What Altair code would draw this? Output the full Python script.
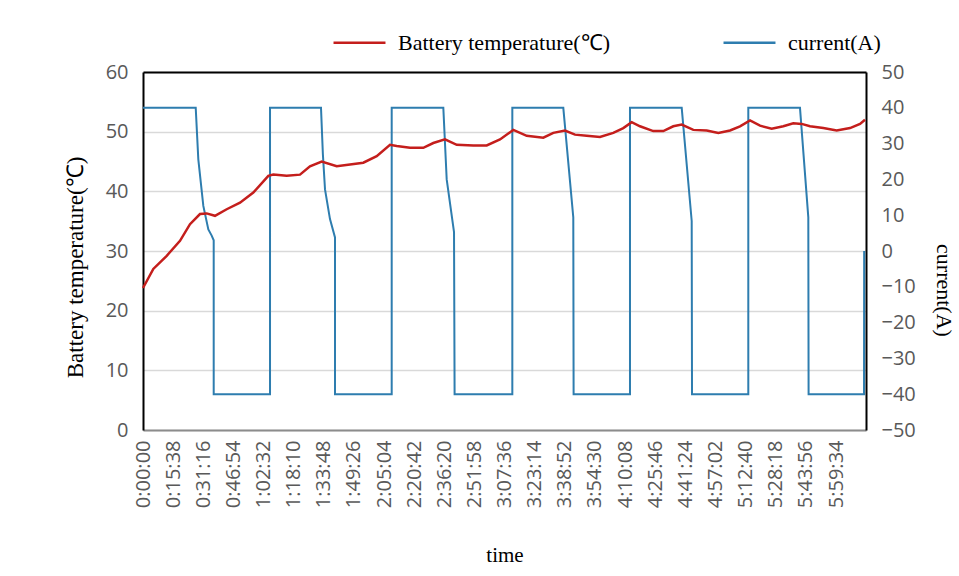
import altair as alt
import pandas as pd

# ---- data (time in seconds from start) ----
temp_time = [0, 321, 738, 1152, 1463, 1774, 1983, 2241, 2606, 3020, 3434, 3901, 4056, 4473,
             4887, 5198, 5563, 6030, 6444, 6858, 7275, 7689, 7898, 8312, 8726, 9037, 9401,
             9766, 10282, 10699, 11113, 11528, 11945, 12461, 12773, 13137, 13448, 13812,
             14226, 14640, 14952, 15213, 15471, 15885, 16197, 16508, 16770, 17131, 17548,
             17910, 18274, 18585, 18897, 19208, 19571, 19933, 20244, 20505, 20764, 21178,
             21595, 22010, 22321, 22476]
temp_value = [23.8, 27.0, 29.2, 31.7, 34.5, 36.2, 36.3, 35.9, 37.0, 38.1, 39.8, 42.6, 42.8, 42.6,
              42.8, 44.2, 45.0, 44.2, 44.5, 44.8, 45.9, 47.8, 47.6, 47.3, 47.3, 48.1, 48.7,
              47.8, 47.7, 47.7, 48.7, 50.3, 49.3, 49.0, 49.8, 50.2, 49.5, 49.3,
              49.1, 49.8, 50.6, 51.6, 50.9, 50.1, 50.1, 50.9, 51.2, 50.3, 50.2,
              49.8, 50.2, 50.9, 51.9, 51.0, 50.5, 50.9, 51.4, 51.3, 50.9, 50.6,
              50.2, 50.6, 51.3, 52.0]

cur_time = [0, 1641, 1722, 1878, 2034, 2138, 2201, 2201, 3954, 3954,
            5541, 5600, 5666, 5821, 5977, 5977, 7742, 7742,
            9349, 9454, 9682, 9700, 11497, 11497,
            13084, 13395, 13405, 15160, 15160,
            16770, 17081, 17091, 18843, 18843,
            20452, 20711, 20720, 22445, 22450]
cur_value = [40, 40, 25.6, 12.6, 6.0, 4.3, 3.0, -40, -40, 40,
             40, 27.0, 17.2, 8.9, 3.8, -40, -40, 40,
             40, 20.0, 5.3, -40, -40, 40,
             40, 9.4, -40, -40, 40,
             40, 8.4, -40, -40, 40,
             40, 9.4, -40, -40, 0]

tick_seconds = [i * 938 for i in range(24)]  # 0:00:00, 0:15:38, ... 5:59:34
x_end = 22507

series_names = ["Battery temperature(\u2103)", "current(A)"]
series_colors = ["#C41E1C", "#2E7DAF"]

temp_df = pd.DataFrame({"t": temp_time, "v": temp_value, "idx": range(len(temp_time)),
                        "series": series_names[0]})
cur_df = pd.DataFrame({"t": cur_time, "v": cur_value, "idx": range(len(cur_time)),
                       "series": series_names[1]})

label_expr = ("floor(datum.value/3600) + ':' + "
              "(floor((datum.value%3600)/60) < 10 ? '0' : '') + floor((datum.value%3600)/60) + ':' + "
              "(datum.value%60 < 10 ? '0' : '') + (datum.value%60)")

tick_font = "Open Sans"
serif = "Liberation Serif"
gray = "#595959"

color = alt.Color("series:N",
                  scale=alt.Scale(domain=series_names, range=series_colors),
                  legend=alt.Legend(title=None, orient="none", legendX=189, legendY=-57,
                                    direction="horizontal", columns=2, columnPadding=108,
                                    symbolType="stroke", symbolSize=2700, symbolStrokeWidth=2.5,
                                    labelFont=serif, labelFontSize=22, labelColor="#000000",
                                    labelOffset=11, labelLimit=400))

x_enc = alt.X("t:Q", scale=alt.Scale(domain=[0, x_end], nice=False, zero=False),
              axis=alt.Axis(values=tick_seconds, labelExpr=label_expr, labelAngle=270,
                            labelFont=tick_font, labelFontSize=20, labelColor=gray,
                            labelPadding=10, ticks=False, grid=False,
                            domainColor="#8c8c8c", domainWidth=2,
                            title="time", titleFont=serif, titleFontSize=21,
                            titleFontWeight="normal", titleColor="#000000", titlePadding=37,
                            labelOverlap=False))

temp_line = alt.Chart(temp_df).mark_line(strokeWidth=2.5).encode(
    x=x_enc,
    y=alt.Y("v:Q", scale=alt.Scale(domain=[0, 60], nice=False),
            axis=alt.Axis(values=[0, 10, 20, 30, 40, 50, 60], orient="left",
                          labelFont=tick_font, labelFontSize=20, labelColor=gray,
                          labelPadding=15, ticks=False, grid=True, gridColor="#d9d9d9",
                          gridWidth=1.5, domainColor="#000000", domainWidth=2,
                          title=series_names[0], titleFont=serif, titleFontSize=23,
                          titleFontWeight="normal", titleColor="#000000", titlePadding=18,
                          titleY=195)),
    color=color,
    order="idx:Q",
)

cur_line = alt.Chart(cur_df).mark_line(strokeWidth=2).encode(
    x=alt.X("t:Q", axis=alt.Axis(orient="top", labels=False, ticks=False, grid=False,
                                 domainColor="#000000", domainWidth=2, title=None)),
    y=alt.Y("v:Q", scale=alt.Scale(domain=[-50, 50], nice=False),
            axis=alt.Axis(values=list(range(-50, 51, 10)), orient="right",
                          labelFont=tick_font, labelFontSize=20, labelColor=gray,
                          labelPadding=15, ticks=False, grid=False,
                          domainColor="#000000", domainWidth=2,
                          title=series_names[1], titleFont=serif, titleFontSize=22,
                          titleFontWeight="normal", titleColor="#000000", titlePadding=16,
                          titleY=218)),
    color=color,
    order="idx:Q",
)

chart = alt.layer(cur_line, temp_line).resolve_scale(
    y="independent"
).resolve_axis(
    x="independent"
).properties(
    width=723, height=358,
    autosize=alt.AutoSizeParams(type="none"),
    padding={"left": 143, "top": 72, "right": 93, "bottom": 146},
    background="#ffffff",
).configure_view(stroke=None)

chart.save("out.html", embed_options={"renderer": "svg", "actions": False})
